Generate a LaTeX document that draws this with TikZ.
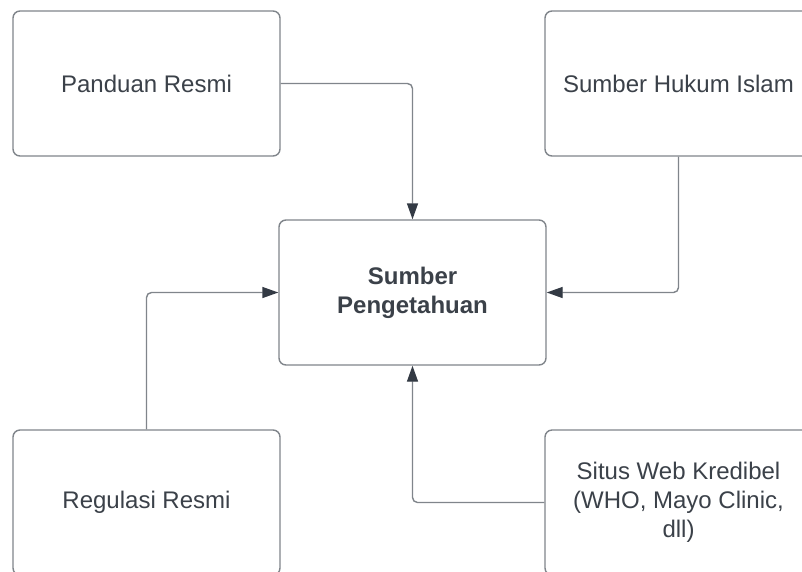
\documentclass[tikz,border=0pt]{standalone}
\usepackage{fontspec}
\setmainfont{Liberation Sans}
\usetikzlibrary{arrows.meta}
\definecolor{boxline}{HTML}{80858B}
\definecolor{txt}{HTML}{3B4149}
\definecolor{arr}{HTML}{333A44}
\tikzset{
  card/.style={draw=boxline, line width=1.4pt, rounded corners=7pt, fill=white,
    minimum width=267pt, minimum height=145pt, align=center, text=txt,
    font=\fontsize{24}{29}\selectfont, inner sep=0pt},
  conn/.style={draw=boxline, line width=1.4pt, rounded corners=5pt,
    -{Triangle[length=16pt,width=11pt,color=arr]}}
}
\begin{document}
\begin{tikzpicture}[x=1pt,y=-1pt]
\clip (0,0) rectangle (802,571);
\fill[white] (0,0) rectangle (802,571);
\node[card] (pan) at (146.5,83.5) {Panduan Resmi};
\node[card] (huk) at (678.5,83.5) {Sumber Hukum Islam};
\node[card, font=\fontsize{24}{29}\selectfont\bfseries] (ctr) at (412.5,292.5) {Sumber\\Pengetahuan};
\node[card] (reg) at (146.5,502.5) {Regulasi Resmi};
\node[card] (sit) at (678.5,502.5) {Situs Web Kredibel\\(WHO, Mayo Clinic,\\dll)};
\draw[conn] (pan.east) -| (ctr.north);
\draw[conn] (huk.south) |- (ctr.east);
\draw[conn] (reg.north) |- (ctr.west);
\draw[conn] (sit.west) -| (ctr.south);
\end{tikzpicture}
\end{document}
